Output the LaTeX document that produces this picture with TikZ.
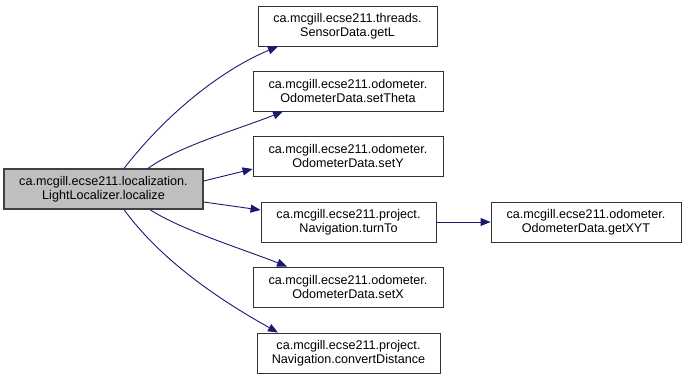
\documentclass[tikz,border=0pt]{standalone}
\usepackage{fontspec}
\setmainfont{Liberation Sans}
\usetikzlibrary{arrows.meta}
\definecolor{edgeblue}{HTML}{191970}
\definecolor{callerfill}{HTML}{BFBFBF}
\begin{document}
\begin{tikzpicture}[x=1pt,y=-1pt,
  fn/.style={draw=black!80, fill=white, line width=0.9pt, minimum height=40pt,
    inner sep=0pt, align=center, font=\fontsize{12.6}{14.5}\selectfont},
  root/.style={fn, fill=callerfill, draw=black!75, line width=1.2pt},
  call/.style={draw=edgeblue, line width=0.9pt,
    -{Triangle[length=10pt,width=8pt]}}]
\useasboundingbox (0,0) rectangle (685,379);

\node[root, minimum width=199pt] (a) at (103.5,189)
  {ca.mcgill.ecse211.localization.\\LightLocalizer.localize};
\node[fn, minimum width=179pt] (sensor) at (347.5,26)
  {ca.mcgill.ecse211.threads.\\SensorData.getL};
\node[fn, minimum width=190pt] (theta) at (348,91)
  {ca.mcgill.ecse211.odometer.\\OdometerData.setTheta};
\node[fn, minimum width=190pt] (sety) at (348,156)
  {ca.mcgill.ecse211.odometer.\\OdometerData.setY};
\node[fn, minimum width=175pt] (turn) at (348.5,222)
  {ca.mcgill.ecse211.project.\\Navigation.turnTo};
\node[fn, minimum width=190pt] (setx) at (348,287)
  {ca.mcgill.ecse211.odometer.\\OdometerData.setX};
\node[fn, minimum width=183pt] (conv) at (348.5,353)
  {ca.mcgill.ecse211.project.\\Navigation.convertDistance};
\node[fn, minimum width=190pt] (xyt) at (586,222)
  {ca.mcgill.ecse211.odometer.\\OdometerData.getXYT};

\draw[call] ([xshift=20.5pt]a.north) .. controls +(46,-59) and +(-53,22) .. ([xshift=-69.5pt]sensor.south);
\draw[call] ([xshift=44.5pt]a.north) .. controls +(30,-22) and +(-45,18) .. ([xshift=-65pt]theta.south);
\draw[call] ([yshift=8pt]a.east) -- ([yshift=-13pt]sety.west);
\draw[call] ([yshift=-13pt]a.east) -- ([yshift=12pt]turn.west);
\draw[call] ([xshift=46.5pt]a.south) .. controls +(30,20) and +(-40,-16) .. ([xshift=-61pt]setx.north);
\draw[call] ([xshift=20.5pt]a.south) .. controls +(40,55) and +(-50,-28) .. ([xshift=-70.5pt]conv.north);
\draw[call] (turn.east) -- (xyt.west);
\end{tikzpicture}
\end{document}
